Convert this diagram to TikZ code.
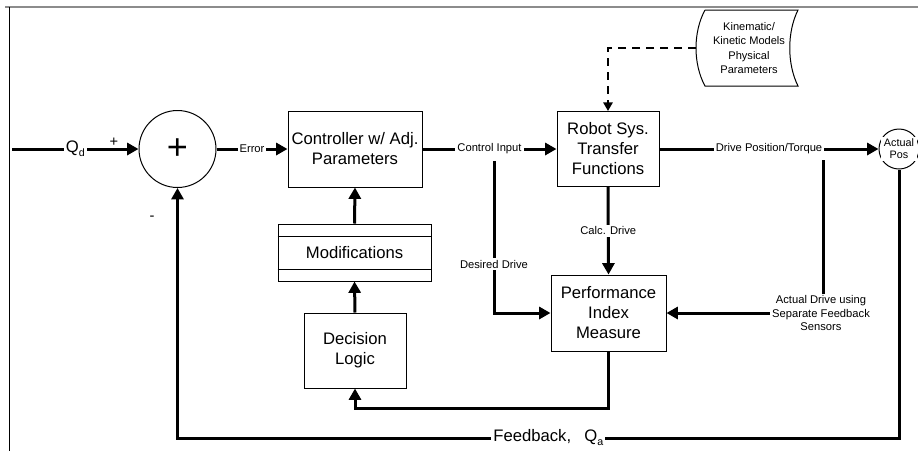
\documentclass[tikz,border=0pt]{standalone}
\usepackage{fontspec}
\setmainfont{Liberation Sans}
\usetikzlibrary{arrows.meta, calc}
\definecolor{framegray}{HTML}{8C8C8C}
\newcommand{\lowsub}[1]{\raisebox{-3pt}{\fontsize{8}{8}\selectfont #1}}

\begin{document}
\begin{tikzpicture}[x=0.75pt, y=-0.75pt,
    block/.style={draw, line width=0.75pt, align=center, inner sep=0pt,
      font=\fontsize{12.5}{15}\selectfont},
    lbl/.style={fill=white, inner sep=1.5pt, align=center,
      font=\fontsize{8.4}{9.8}\selectfont},
    biglbl/.style={lbl, font=\fontsize{12.5}{15}\selectfont},
    sig/.style={line width=2.25pt, -{Triangle[length=8.5pt, width=9pt]}},
    wire/.style={line width=2.25pt},
  ]
    \useasboundingbox (0,0) rectangle (918,451);
    % frame edges
    \draw[framegray, line width=1.5pt] (5,7) -- (918,7);
    \draw[line width=0.75pt] (9.5,7) -- (9.5,451);

    % summing junction and blocks
    \node[draw, circle, line width=0.75pt, minimum size=57.75pt, inner sep=0pt,
      font=\fontsize{27}{27}\selectfont] (sum) at (177.5,149) {+};
    \node[block, minimum width=100.5pt, minimum height=57pt] (ctrl) at (355,149)
      {Controller w/ Adj.\\Parameters};
    \node[block, minimum width=76.5pt, minimum height=56.25pt] (robot) at (608,149)
      {Robot Sys.\\Transfer\\Functions};
    \node[block, minimum width=86.25pt, minimum height=57pt] (perf) at (608.5,313)
      {Performance\\Index\\Measure};
    \node[block, minimum width=114.75pt, minimum height=42.75pt] (mod) at (354.5,252.5)
      {Modifications};
    \draw[line width=0.75pt] ([yshift=-9.75pt]mod.north west) -- ([yshift=-9.75pt]mod.north east);
    \draw[line width=0.75pt] ([yshift=9pt]mod.south west) -- ([yshift=9pt]mod.south east);
    \node[block, minimum width=76.5pt, minimum height=56.25pt] (dec) at (355,350.5)
      {Decision\\Logic};

    % actual position
    \node[draw, circle, line width=0.75pt, minimum size=30pt, inner sep=0pt] (act) at (899,149) {};
    \node[fill=white, inner xsep=2pt, inner ysep=1.8pt, align=center,
      font=\fontsize{8.1}{9}\selectfont] (acttxt) at (act) {Actual\\Pos};

    % models and parameters store
    \draw[line width=0.75pt] (705,10) -- (798,10)
      .. controls (787,32) and (787,64) .. (798,86) -- (705,86)
      .. controls (693,64) and (693,32) .. (705,10);
    \node[align=center, font=\fontsize{8.3}{10.8}\selectfont] (kin) at (749,48)
      {Kinematic/\\Kinetic Models\\Physical\\Parameters};
    \coordinate (kinL) at (696,48);
    \draw[line width=1.5pt, dash pattern=on 6pt off 4.5pt,
      -{Triangle[length=6.5pt, width=7pt]}] (kinL) -| (robot.north);

    % forward path
    \coordinate (qin) at (12,149);
    \draw[sig] (qin) -- node[biglbl] {Q\lowsub{d}} (sum.west);
    \node[font=\fontsize{11}{11}\selectfont] (plus) at (114,142) {+};
    \node[font=\fontsize{11}{11}\selectfont] (minus) at (152,218) {-};
    \draw[sig] (sum.east) -- node[lbl] {Error} (ctrl.west);
    \draw[sig] (ctrl.east) -- node[lbl] (ci) {Control Input} (robot.west);
    \draw[sig] (robot.east) -- node[lbl] (dpt) {Drive Position/Torque} (act.west);

    % performance measurement
    \coordinate (dd) at (494,161);
    \draw[sig] (dd) |- node[lbl, pos=0.34] {Desired Drive} (perf.west);
    \draw[sig] (robot.south) -- node[lbl] {Calc. Drive} (perf.north);
    \coordinate (ad) at (823,160);
    \node[lbl] (sens) at (821,313) {Actual Drive using\\Separate Feedback\\Sensors};
    \draw[wire] (ad) -- (ad |- sens.north);
    \draw[sig] (sens.west) -- (perf.east);

    % adaptation loop
    \coordinate (pd) at (608.5,408);
    \draw[sig] (perf.south) -- (pd) -| (dec.south);
    \draw[sig] (dec.north) -- (mod.south);
    \draw[sig] (mod.north) -- (ctrl.south);

    % feedback
    \coordinate (fbR) at (899,438);
    \coordinate (fbL) at (177.5,438);
    \draw[sig] (act.south) -- (fbR)
      -- node[biglbl, pos=0.486] {Feedback,\hspace{0.8em}Q\lowsub{a}} (fbL)
      -- (sum.south);
\end{tikzpicture}
\end{document}
